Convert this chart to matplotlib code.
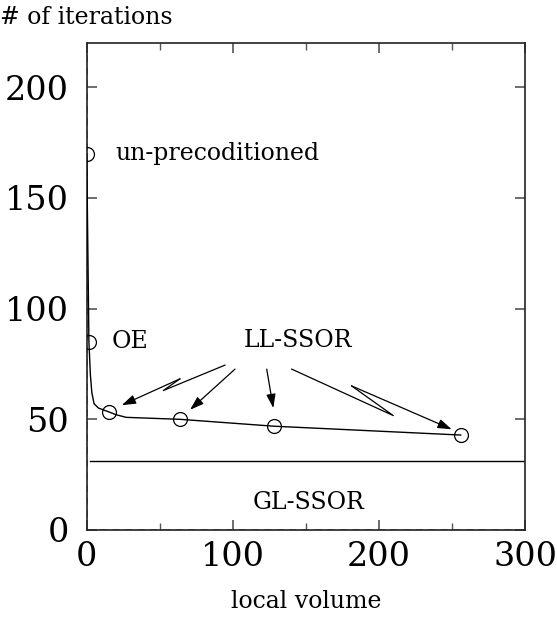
import matplotlib
matplotlib.use("Agg")
import matplotlib.pyplot as plt

# curve of iterations vs local volume
curve_x = [0, 1.5, 2.5, 3.5, 5, 8, 15, 20, 27, 64, 128, 256]
curve_y = [170, 85, 70, 62, 57, 55, 53.3, 52, 50.8, 49.9, 46.8, 42.8]

# circled measurement points
mark_x = [0, 1.5, 15, 64, 128, 256]
mark_y = [170, 85, 53.3, 49.9, 46.8, 42.8]

gl_ssor = 31.2
gl_start = 2

# arrow paths from "LL-SSOR" label to points (data coords)
arrow_paths = [
    [(94.6, 74.4), (52.4, 62.9), (63.8, 68.2), (24.0, 56.3)],
    [(101.5, 72.6), (70.7, 54.2)],
    [(123.2, 72.6), (127.7, 55.0)],
    [(140.3, 72.6), (209.8, 51.6), (181.3, 65.0), (249.8, 45.4)],
]

plt.rcParams['font.family'] = ['DejaVu Serif']

fig = plt.figure(figsize=(5.57, 6.2), dpi=100)
ax = fig.add_axes([0.1557, 0.1456, 0.9426 - 0.1557, 0.9306 - 0.1456])

ax.plot(curve_x, curve_y, color="black", linewidth=1.0, zorder=3)
ax.plot(mark_x, mark_y, linestyle="none", marker="o", markersize=10,
        markerfacecolor="none", markeredgecolor="black", markeredgewidth=0.9, zorder=4)
ax.plot([gl_start, 300], [gl_ssor, gl_ssor], color="black", linewidth=1.0)

# gnuplot style zero axes
ax.axvline(0, color="#777777", linewidth=1.3, dashes=(4, 3), zorder=2)
ax.axhline(0, color="#777777", linewidth=1.3, dashes=(4, 3), zorder=2)

for path in arrow_paths:
    xs = [p[0] for p in path]
    ys = [p[1] for p in path]
    ax.plot(xs[:-1], ys[:-1], color="black", linewidth=0.9)
    ax.annotate("", xy=path[-1], xytext=path[-2],
                arrowprops=dict(arrowstyle="-|>,head_length=0.6,head_width=0.2",
                                color="black", lw=0.9,
                                mutation_scale=14, shrinkA=0, shrinkB=0))

ax.text(19.5, 170, "un-precoditioned", fontsize=17, va="center", ha="left")
ax.text(17, 85, "OE", fontsize=17, va="center", ha="left")
ax.text(144.7, 85.6, "LL-SSOR", fontsize=17, va="center", ha="center")
ax.text(152, 12.5, "GL-SSOR", fontsize=17, va="center", ha="center")

ax.set_xlim(0, 300)
ax.set_ylim(0, 220)
ax.set_xticks([0, 100, 200, 300])
ax.set_xticks([50, 150, 250], minor=True)
ax.set_yticks([0, 50, 100, 150, 200])
ax.tick_params(axis="both", which="both", direction="in", top=True, right=True,
               color="#555555", labelsize=24)
ax.tick_params(axis="y", which="major", length=7, width=1.2, pad=13)
ax.tick_params(axis="x", which="major", length=7, width=1.2, pad=8)
ax.tick_params(axis="x", which="minor", length=5, width=1.0)
for s in ax.spines.values():
    s.set_linewidth(1.2)
    s.set_color("#222222")

ax.set_xlabel("local volume", fontsize=17, labelpad=12)
fig.text(0.0, 0.972, "# of iterations", fontsize=17, va="center", ha="left")

plt.savefig("out.png", dpi=100)
